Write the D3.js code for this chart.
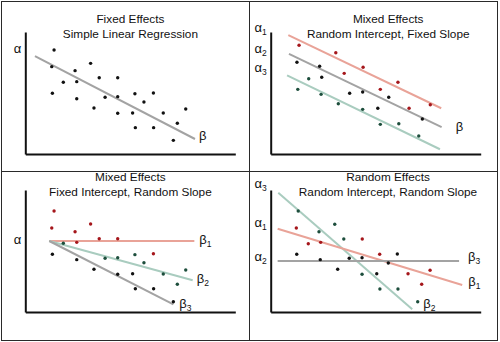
<!DOCTYPE html>
<html>
<head>
<meta charset="utf-8">
<script src="https://cdn.jsdelivr.net/npm/d3@7"></script>
<style>
  body { margin: 0; background: #fff; }
  svg { display: block; }
</style>
</head>
<body>
<svg id="chart" width="500" height="342"></svg>
<script>
// ---------- data ----------
const panelTitles = [
  ["Fixed Effects", "Simple Linear Regression"],
  ["Mixed Effects", "Random Intercept, Fixed Slope"],
  ["Mixed Effects", "Fixed Intercept, Random Slope"],
  ["Random Effects", "Random Intercept, Random Slope"]
];

// Panel 1: one group, one regression line
const slrPoints = [[1.37,8.52],[1.26,7.16],[3.11,7.43],[2.37,6.83],[1.81,5.88],[2.45,5.93],[3.52,6.25],[4.40,6.25],
  [1.29,4.98],[2.45,4.53],[3.80,4.65],[4.40,4.70],[5.22,4.94],[6.10,5.00],[5.65,4.26],[3.27,3.77],
  [4.40,3.34],[5.11,3.36],[6.57,3.36],[7.64,3.69],[5.24,2.16],[6.11,2.16],[7.24,2.52],[7.05,1.12]];
const slrLine = [[0.46,8.03],[8.08,1.23]];

// Panel 2: random intercept, fixed slope
const riRed   = [[1.35,8.91],[3.10,8.30],[3.50,6.61],[4.40,7.11],[5.22,5.30],[6.06,5.88],[6.59,3.75],[7.60,4.04]];
const riBlack = [[1.25,7.52],[2.33,7.19],[2.43,6.29],[3.76,4.98],[4.38,5.08],[5.62,4.65],[5.10,3.75],[7.22,2.87]];
const riGreen = [[1.29,5.30],[1.81,6.17],[2.40,4.89],[3.22,4.12],[4.38,3.66],[5.22,2.43],[6.10,2.48],[7.05,1.48]];
const riRedLine   = [[0.84,9.75],[8.12,3.75]];
const riGrayLine  = [[0.87,8.20],[8.14,2.21]];
const riGreenLine = [[0.78,6.45],[8.06,0.39]];

// Panel 3: fixed intercept, random slope
const rsRed   = [[1.37,8.28],[1.26,6.89],[3.11,7.21],[2.37,6.58],[2.45,5.71],[3.52,6.01],[4.40,6.01],[6.10,4.78]];
const rsGreen = [[1.81,5.63],[3.80,4.40],[4.40,4.45],[5.22,4.70],[5.65,4.04],[6.57,3.11],[7.64,3.44],[7.24,2.27]];
const rsBlack = [[1.29,4.73],[2.45,4.29],[3.27,3.50],[4.40,3.09],[5.11,3.14],[5.24,1.91],[6.11,1.91],[7.05,0.84]];
const rsOrigin = [1.14,5.82];
const rsRedLine   = [rsOrigin,[8.05,5.82]];
const rsGreenLine = [rsOrigin,[7.97,2.60]];
const rsGrayLine  = [rsOrigin,[7.05,0.63]];

// Panel 4: random intercept, random slope
const reGreen = [[1.31,8.28],[3.05,7.19],[2.30,6.58],[3.48,5.98],[4.35,3.09],[5.20,1.89],[6.06,1.89],[7.00,0.84]];
const reRed   = [[1.22,6.89],[1.79,5.60],[2.38,5.71],[4.36,5.98],[5.19,4.73],[6.54,3.14],[7.59,3.42],[7.19,2.27]];
const reBlack = [[1.24,4.73],[2.36,4.29],[3.19,3.50],[3.74,4.40],[4.35,4.45],[5.60,4.02],[6.03,4.75],[5.05,3.14]];
const reGreenLine = [[0.36,9.78],[6.74,0.22]];
const reRedLine   = [[0.33,6.83],[9.12,2.21]];
const reGrayLine  = [[0.33,4.18],[8.97,4.18]];

// intercept labels on the vertical axis: [symbol, subscript, value]
const p1Alpha = [["α","",8.55]];
const p2Alpha = [["α","1",10.23],["α","2",8.51],["α","3",6.95]];
const p3Alpha = [["α","",5.84]];
const p4Alpha = [["α","3",10.45],["α","1",7.25],["α","2",4.44]];

// ---------- styles ----------
const C = {
  dotBlack: "#111111", dotRed: "#a5161b", dotGreen: "#1d4e3c",
  lineGray: "#a3a3a3", lineRed: "#e9a398", lineGreen: "#a9ccbf"
};
const FONT = "'Liberation Sans', Arial, sans-serif";

// ---------- panel table ----------
const panels = [
  { ox: 0, oy: 0, titleX: 130.4, titles: panelTitles[0], alphas: p1Alpha,
    groups: [{ pts: slrPoints, dot: C.dotBlack }],
    lines: [{ d: slrLine, color: C.lineGray, label: ["β",""], dx: 4, dy: -2.3 }] },
  { ox: 245.4, oy: 0, titleX: 142.8, titles: panelTitles[1], alphas: p2Alpha,
    groups: [{ pts: riRed, dot: C.dotRed }, { pts: riBlack, dot: C.dotBlack }, { pts: riGreen, dot: C.dotGreen }],
    lines: [{ d: riRedLine, color: C.lineRed }, { d: riGrayLine, color: C.lineGray, label: ["β",""], dx: 14, dy: 1 },
            { d: riGreenLine, color: C.lineGreen }] },
  { ox: 0, oy: 158, titleX: 130.4, titles: panelTitles[2], alphas: p3Alpha,
    groups: [{ pts: rsRed, dot: C.dotRed }, { pts: rsGreen, dot: C.dotGreen }, { pts: rsBlack, dot: C.dotBlack }],
    lines: [{ d: rsRedLine, color: C.lineRed, label: ["β","1"], dx: 5, dy: -0.5 },
            { d: rsGreenLine, color: C.lineGreen, label: ["β","2"], dx: 4, dy: 0 },
            { d: rsGrayLine, color: C.lineGray, label: ["β","3"], dx: 6, dy: 0 }] },
  { ox: 245.4, oy: 158, titleX: 142.6, titles: panelTitles[3], alphas: p4Alpha,
    groups: [{ pts: reGreen, dot: C.dotGreen }, { pts: reRed, dot: C.dotRed }, { pts: reBlack, dot: C.dotBlack }],
    lines: [{ d: reGreenLine, color: C.lineGreen, label: ["β","2"], dx: 11, dy: -5 },
            { d: reRedLine, color: C.lineRed, label: ["β","1"], dx: 6, dy: -2 },
            { d: reGrayLine, color: C.lineGray, label: ["β","3"], dx: 9, dy: -3 }] }
];

// ---------- drawing ----------
const svg = d3.select("#chart");
const x = d3.scaleLinear().domain([0, 10]).range([25.3, 235.3]);
const y = d3.scaleLinear().domain([0, 10]).range([154, 32]);
const line = d3.line().x(d => x(d[0])).y(d => y(d[1]));

// panel frame
const frame = svg.append("g").attr("fill", "none").attr("stroke", "#2a2a2a").attr("stroke-width", 1);
frame.append("rect").attr("x", 1.5).attr("y", 1.5).attr("width", 496).attr("height", 339);
frame.append("line").attr("x1", 249.5).attr("x2", 249.5).attr("y1", 1.5).attr("y2", 340.5);
frame.append("line").attr("x1", 1.5).attr("x2", 497.5).attr("y1", 171.5).attr("y2", 171.5);

function greek(sel, sym, sub) {
  sel.append("tspan").text(sym);
  if (sub) sel.append("tspan").attr("font-size", 8.5).attr("dy", 3).text(sub);
}

panels.forEach(p => {
  const g = svg.append("g").attr("transform", `translate(${p.ox},${p.oy})`);

  // axes without ticks
  g.append("g").attr("transform", `translate(${x(0)},0)`)
    .call(d3.axisLeft(y).ticks(0).tickSizeOuter(0))
    .call(a => a.select(".domain").attr("stroke", "#111").attr("stroke-width", 2));
  g.append("g").attr("transform", `translate(0,${y(0)})`)
    .call(d3.axisBottom(x).ticks(0).tickSizeOuter(0))
    .call(a => a.select(".domain").attr("stroke", "#111").attr("stroke-width", 2));

  // titles
  g.selectAll("text.title").data(p.titles).join("text")
    .attr("class", "title")
    .attr("x", p.titleX).attr("y", (d, i) => 23.3 + i * 15)
    .attr("text-anchor", "middle")
    .attr("font-family", FONT).attr("font-size", 11.8).attr("fill", "#111")
    .text(d => d);

  // fitted lines
  p.lines.forEach(l => {
    g.append("path").attr("d", line(l.d)).attr("fill", "none")
      .attr("stroke", l.color).attr("stroke-width", 2);
  });

  // observations
  p.groups.forEach(gr => {
    g.append("g").selectAll("circle").data(gr.pts).join("circle")
      .attr("cx", d => x(d[0])).attr("cy", d => y(d[1])).attr("r", 1.7)
      .attr("fill", gr.dot);
  });

  // slope labels at line ends
  p.lines.filter(l => l.label).forEach(l => {
    const end = l.d[l.d.length - 1];
    const t = g.append("text")
      .attr("x", x(end[0]) + l.dx).attr("y", y(end[1]) + l.dy + 3.2)
      .attr("font-family", FONT).attr("font-size", 13).attr("fill", "#111");
    greek(t, l.label[0], l.label[1]);
  });

  // intercept labels
  p.alphas.forEach(a => {
    const t = g.append("text")
      .attr("x", x(0) - 4).attr("y", y(a[2]) + 3)
      .attr("text-anchor", "end")
      .attr("font-family", FONT).attr("font-size", 13).attr("fill", "#111");
    greek(t, a[0], a[1]);
  });
});
</script>
</body>
</html>
